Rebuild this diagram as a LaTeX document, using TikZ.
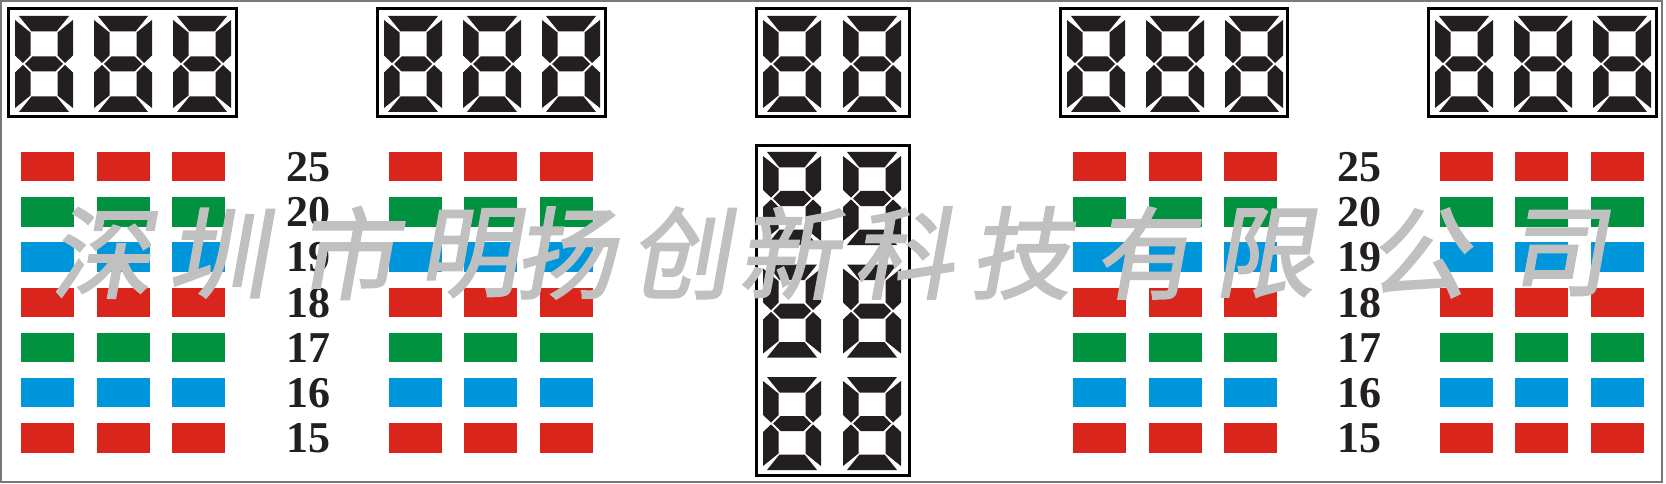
\documentclass[tikz,border=0pt]{standalone}
\usepackage{fontspec}
\setmainfont{Liberation Serif}
\newfontfamily\cjk{Noto Sans CJK SC}[FakeSlant=0.18,FakeBold=2]
\definecolor{barred}{RGB}{218,37,29}
\definecolor{bargreen}{RGB}{0,146,63}
\definecolor{barblue}{RGB}{0,150,219}
\definecolor{markgray}{RGB}{192,192,192}
\definecolor{framegray}{RGB}{120,120,120}
\definecolor{segblack}{RGB}{35,31,32}
% one 7-segment digit: #1,#2 = top left corner, #3 = height
\def\sevenseg#1#2#3{%
  \begin{scope}[shift={(#1,#2)}]
    \pgfmathsetmacro\sm{#3/2}
    \fill[seg] (4,0) -- (54,0) -- (41.5,15.5) -- (16.5,15.5) -- cycle;
    \fill[seg] (4,#3) -- (54,#3) -- (41.5,{#3-15.5}) -- (16.5,{#3-15.5}) -- cycle;
    \fill[seg] (0,4) -- (15.5,16.5) -- (15.5,{\sm-8.5}) -- (8,{\sm-1}) -- (0,{\sm-8.5}) -- cycle;
    \fill[seg] (58,4) -- (42.5,16.5) -- (42.5,{\sm-8.5}) -- (50,{\sm-1}) -- (58,{\sm-8.5}) -- cycle;
    \fill[seg] (0,{#3-4}) -- (15.5,{#3-16.5}) -- (15.5,{\sm+8.5}) -- (8,{\sm+1}) -- (0,{\sm+8.5}) -- cycle;
    \fill[seg] (58,{#3-4}) -- (42.5,{#3-16.5}) -- (42.5,{\sm+8.5}) -- (50,{\sm+1}) -- (58,{\sm+8.5}) -- cycle;
    \fill[seg] (10,\sm) -- (17.5,{\sm-7.5}) -- (40.5,{\sm-7.5}) -- (48,\sm) -- (40.5,{\sm+7.5}) -- (17.5,{\sm+7.5}) -- cycle;
  \end{scope}}

\begin{document}
\begin{tikzpicture}[x=1pt, y=-1pt, seg/.style={fill=segblack}, dispbox/.style={draw=black, line width=3pt}, numlabel/.style={anchor=base, inner sep=0pt, text=segblack, font=\bfseries\fontsize{44}{44}\selectfont}, watermark/.style={inner sep=0pt, text=markgray, font=\cjk\fontsize{100}{100}\selectfont}]
\useasboundingbox (0,0) rectangle (1666,484);
\fill[white] (0,0) rectangle (1666,484);
\draw[framegray, line width=1.5pt] (1,1) rectangle (1662,482);

% score windows on top
\draw[dispbox] (8.5,8.5) rectangle (236,117);
\draw[dispbox] (377,8.5) rectangle (605,117);
\draw[dispbox] (756,8.5) rectangle (909,117);
\draw[dispbox] (1060,8.5) rectangle (1287,117);
\draw[dispbox] (1428,8.5) rectangle (1656,117);
\foreach \x in {15,94,173, 384,463,542, 1067,1146,1225, 1435,1514,1593}{
  \sevenseg{\x}{16}{96}
}
\sevenseg{763}{16}{96}
\sevenseg{843}{16}{96}

% centre column
\draw[dispbox] (756,145.5) rectangle (909,475);
\foreach \y in {152,264.5,377}{
  \sevenseg{763}{\y}{93}
  \sevenseg{843}{\y}{93}
}

% colour bars
\foreach \col in {21,97,172, 389,464,540, 1073,1149,1224, 1440,1515,1591}
  \foreach \c [count=\i from 0] in {barred,bargreen,barblue,barred,bargreen,barblue,barred}
    \fill[\c] (\col,{152+45.17*\i}) rectangle ++(53,29.5);

% row labels
\foreach \v [count=\i from 0] in {25,20,19,18,17,16,15}{
  \node[numlabel] (left\v) at (308,{181.5+45.17*\i}) {\v};
  \node[numlabel] (right\v) at (1359,{181.5+45.17*\i}) {\v};
}

% watermark
\foreach \ch/\x in {深/101,圳/218,市/347,明/468,扬/565,创/680,新/788,科/903,技/1020,有/1144,限/1264,公/1418,司/1557}
  \node[watermark] (wm\x) at (\x,253) {\ch};
\end{tikzpicture}
\end{document}
